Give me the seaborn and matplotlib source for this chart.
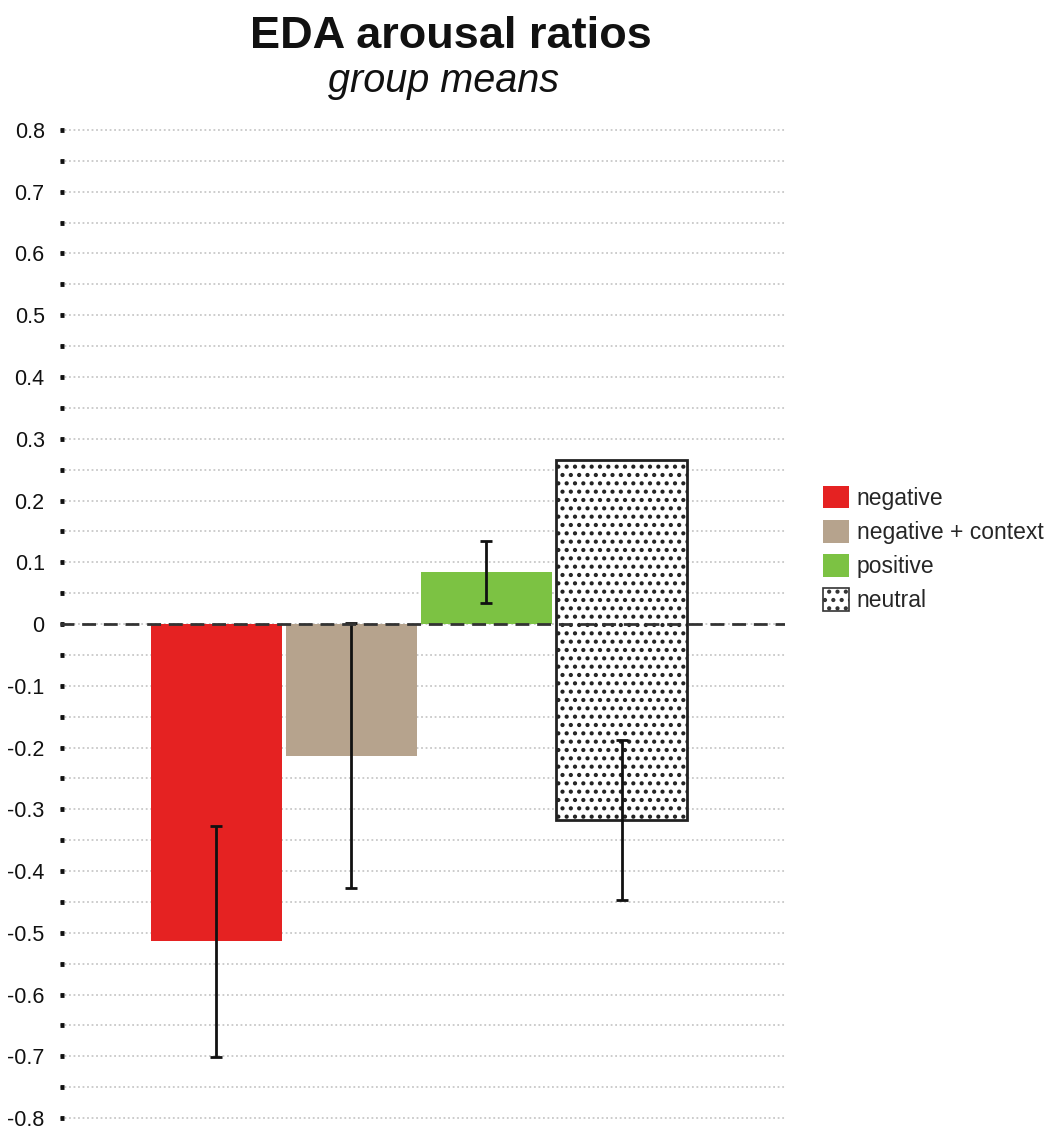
import numpy as np
import pandas as pd
import matplotlib
matplotlib.use("Agg")
import matplotlib.pyplot as plt
from matplotlib.patches import Patch
import seaborn as sns

# Group means of the EDA arousal ratios with their error ranges
categories = ["negative", "negative + context", "positive", "neutral"]
means = [-0.514, -0.213, 0.084, -0.317]
errors = [0.187, 0.214, 0.050, 0.130]
# level each bar is drawn from (the neutral bar spans from its upper edge down to its mean)
bar_starts = [0.0, 0.0, 0.0, 0.265]

colors = ["#E52222", "#B6A38D", "#7CC243", "#FFFFFF"]
hatches = ["", "", "", ".."]

major_ticks = np.round(np.arange(-0.8, 0.81, 0.1), 2)
minor_ticks = np.round(np.arange(-0.75, 0.8, 0.1), 2)
tick_labels = ["0" if t == 0 else "%g" % t for t in major_ticks]

sns.set_style("white")
plt.rcParams["font.family"] = ["Liberation Sans", "DejaVu Sans"]
plt.rcParams["hatch.linewidth"] = 1.8
plt.rcParams["hatch.color"] = "black"

fig = plt.figure(figsize=(10.51, 11.31), dpi=100)
ax = fig.add_axes([60 / 1051, 0.0005, (785 - 60) / 1051, 1012.8 / 1131])

df = pd.DataFrame({"category": categories, "mean": means})
sns.barplot(data=df, x="category", y="mean", hue="category", palette=colors,
            errorbar=None, width=0.97, legend=False, ax=ax, saturation=1)

for patch, start, m, h, c in zip(ax.patches, bar_starts, means, hatches, colors):
    patch.set_y(start)
    patch.set_height(m - start)
    patch.set_linewidth(0)
    if h:
        patch.set_hatch(h)
        patch.set_edgecolor("#222222")
        patch.set_linewidth(2.0)
    patch.set_zorder(2)

ax.errorbar(x=np.arange(len(categories)), y=means, yerr=errors, fmt="none",
            ecolor="#111111", elinewidth=2.0, capsize=4.3, capthick=2.0, zorder=4)

ax.axhline(0, color="#333333", lw=2.0, ls=(0, (5, 2.8)), zorder=5)

ax.set_ylim(-0.82, 0.82)
ax.set_xlim(-1.156, 4.21)
ax.set_yticks(major_ticks, tick_labels)
ax.set_yticks(minor_ticks, minor=True)
ax.grid(False)
for t in np.concatenate([major_ticks, minor_ticks]):
    ax.axhline(t, color="#C8C8C8", lw=1.3, ls=(0, (1, 1.5)), zorder=0.5)

ax.tick_params(axis="y", which="both", direction="in", length=3, width=3.5,
               color="#111111", left=True, labelsize=15.5, labelcolor="#111111", pad=11)
ax.tick_params(axis="x", bottom=False, labelbottom=False)
ax.set_xlabel("")
ax.set_ylabel("")
for s in ax.spines.values():
    s.set_visible(False)

fig.text(451 / 1051, 1 - 48 / 1131, "EDA arousal ratios", ha="center", va="baseline",
         fontsize=32.5, fontweight="bold", color="#111111")
fig.text(444 / 1051, 1 - 92 / 1131, "group means", ha="center", va="baseline",
         fontsize=28.5, fontstyle="italic", color="#111111")

handles = [Patch(facecolor=c, edgecolor=("#333333" if h else c), hatch=h, linewidth=(1.2 if h else 0))
           for c, h in zip(colors, hatches)]
fig.legend(handles, categories, loc="upper left",
           bbox_to_anchor=(823 / 1051, 1 - 486 / 1131), frameon=False,
           fontsize=16.5, handlelength=1.13, handleheight=1.13, handletextpad=0.35,
           labelspacing=0.44, borderpad=0, borderaxespad=0)

fig.savefig("out.png", dpi=100, facecolor="white")
